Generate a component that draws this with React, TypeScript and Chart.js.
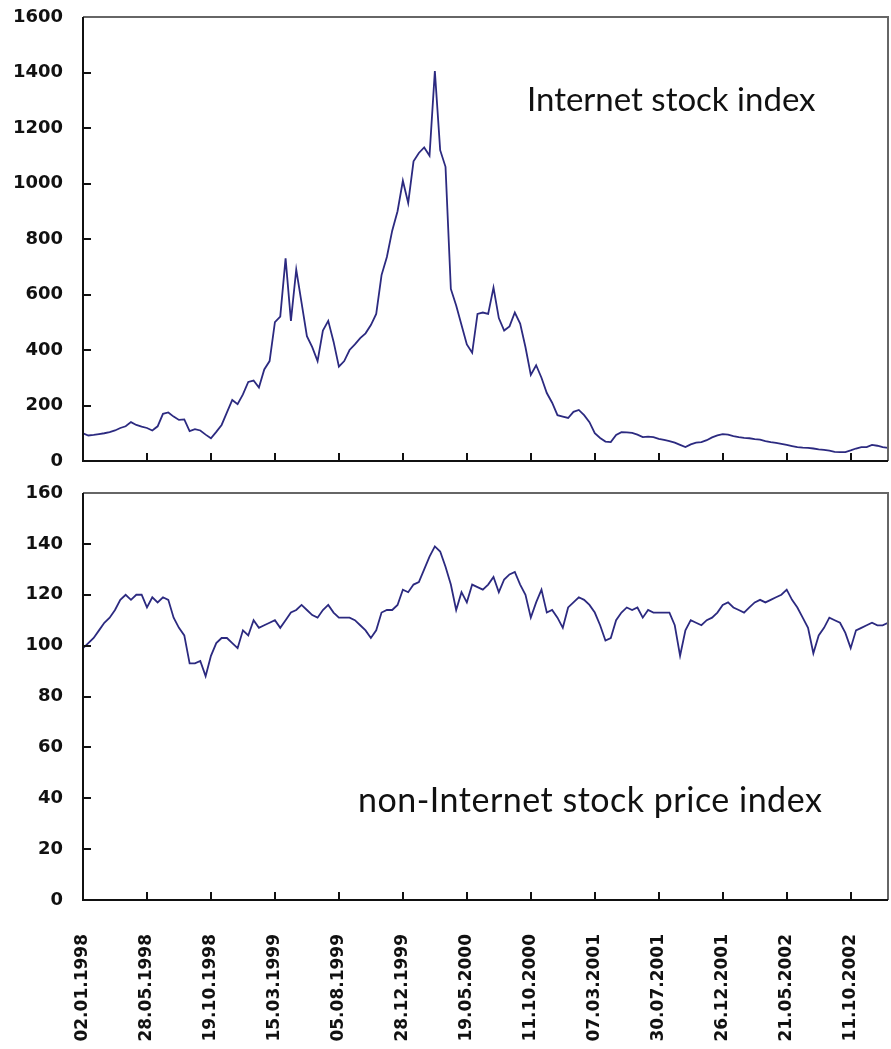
import React, { useEffect, useRef } from "react";
import { Chart, registerables } from "chart.js";

Chart.register(...registerables);

const dateLabels = [
  "02.01.1998", "28.05.1998", "19.10.1998", "15.03.1999", "05.08.1999",
  "28.12.1999", "19.05.2000", "11.10.2000", "07.03.2001", "30.07.2001",
  "26.12.2001", "21.05.2002", "11.10.2002",
];

// sampled roughly every 8 trading days; 12 samples between two date ticks
const internetIndex = [
  100, 92, 94, 97, 100, 104, 110, 119, 125, 140, 130, 124,
  119, 110, 125, 170, 175, 160, 148, 150, 108, 115, 110, 95,
  82, 105, 130, 175, 220, 205, 240, 285, 290, 265, 330, 360,
  500, 520, 730, 505, 690, 570, 450, 410, 360, 470, 505, 430,
  340, 360, 400, 420, 443, 460, 490, 530, 670, 735, 830, 900,
  1010, 930, 1080, 1110, 1130, 1100, 1405, 1120, 1060, 620, 560, 490,
  420, 390, 530, 535, 530, 625, 515, 470, 485, 535, 495, 410,
  310, 345, 300, 245, 210, 165, 160, 155, 177, 184, 165, 140,
  100, 83, 70, 68, 94, 104, 103, 101, 95, 86, 88, 86,
  80, 76, 72, 66, 58, 50, 60, 66, 68, 75, 85, 92,
  97, 95, 90, 86, 83, 82, 79, 77, 72, 68, 65, 62,
  58, 54, 50, 48, 47, 45, 42, 40, 37, 33, 32, 32,
  38, 45, 50, 50, 58, 55, 50, 47,
];

const nonInternetIndex = [
  99, 101, 103, 106, 109, 111, 114, 118, 120, 118, 120, 120,
  115, 119, 117, 119, 118, 111, 107, 104, 93, 93, 94, 88,
  96, 101, 103, 103, 101, 99, 106, 104, 110, 107, 108, 109,
  110, 107, 110, 113, 114, 116, 114, 112, 111, 114, 116, 113,
  111, 111, 111, 110, 108, 106, 103, 106, 113, 114, 114, 116,
  122, 121, 124, 125, 130, 135, 139, 137, 131, 124, 114, 121,
  117, 124, 123, 122, 124, 127, 121, 126, 128, 129, 124, 120,
  111, 117, 122, 113, 114, 111, 107, 115, 117, 119, 118, 116,
  113, 108, 102, 103, 110, 113, 115, 114, 115, 111, 114, 113,
  113, 113, 113, 108, 96, 106, 110, 109, 108, 110, 111, 113,
  116, 117, 115, 114, 113, 115, 117, 118, 117, 118, 119, 120,
  122, 118, 115, 111, 107, 97, 104, 107, 111, 110, 109, 105,
  99, 106, 107, 108, 109, 108, 108, 109,
];

const TICK_EVERY = 12;
const LINE_COLOR = "#2c2a80";
const LABEL_FONT = "'DejaVu Sans', sans-serif";

const framePlugin = {
  id: "frame",
  afterDraw(chart: any) {
    const { ctx, chartArea } = chart;
    const { left, right, top, bottom } = chartArea;
    const xs = chart.scales.x;
    const ys = chart.scales.y;
    ctx.save();
    ctx.strokeStyle = "#111";
    ctx.lineWidth = 2;
    ys.ticks.forEach((t: any) => {
      if (t.value <= ys.min || t.value >= ys.max) return;
      const py = Math.round(ys.getPixelForValue(t.value));
      ctx.beginPath();
      ctx.moveTo(left, py);
      ctx.lineTo(left + 8, py);
      ctx.stroke();
    });
    xs.ticks.forEach((t: any) => {
      if (t.value <= xs.min || t.value % TICK_EVERY !== 0) return;
      const px = Math.round(xs.getPixelForValue(t.value));
      ctx.beginPath();
      ctx.moveTo(px, bottom);
      ctx.lineTo(px, bottom - 8);
      ctx.stroke();
    });
    ctx.strokeStyle = "#666";
    ctx.beginPath();
    ctx.moveTo(left, top);
    ctx.lineTo(right, top);
    ctx.lineTo(right, bottom);
    ctx.stroke();
    ctx.strokeStyle = "#111";
    ctx.beginPath();
    ctx.moveTo(left, top);
    ctx.lineTo(left, bottom);
    ctx.lineTo(right, bottom);
    ctx.stroke();
    ctx.restore();
  },
};

function makeConfig(values: number[], yMax: number, yStep: number, showDates: boolean, padTop: number, xHeight: number) {
  return {
    type: "line" as const,
    data: {
      datasets: [
        {
          data: values.map((v, i) => ({ x: i, y: v })),
          borderColor: LINE_COLOR,
          borderWidth: 1.8,
          pointRadius: 0,
          tension: 0,
          fill: false,
        },
      ],
    },
    options: {
      responsive: false,
      animation: false,
      devicePixelRatio: 1,
      layout: { padding: { top: padTop, right: 3, left: 0, bottom: 0 } },
      plugins: { legend: { display: false }, tooltip: { enabled: false } },
      scales: {
        x: {
          type: "linear",
          min: 0,
          max: values.length - 1,
          grid: { display: false, drawTicks: false },
          border: { display: false },
          afterFit: (s: any) => {
            s.height = xHeight;
            s.paddingLeft = 0;
            s.paddingRight = 0;
            s.paddingTop = 0;
            s.paddingBottom = 0;
          },
          ticks: {
            display: showDates,
            stepSize: TICK_EVERY,
            includeBounds: false,
            autoSkip: false,
            minRotation: 90,
            maxRotation: 90,
            padding: 34,
            color: "#111",
            font: { family: LABEL_FONT, size: 17, weight: "bold" },
            callback: (v: number) => (v % TICK_EVERY === 0 ? dateLabels[v / TICK_EVERY] ?? "" : ""),
          },
        },
        y: {
          min: 0,
          max: yMax,
          grid: { display: false, drawTicks: false },
          border: { display: false },
          afterFit: (s: any) => {
            s.width = 83;
            s.paddingTop = 0;
            s.paddingBottom = 0;
            s.paddingLeft = 0;
            s.paddingRight = 0;
          },
          ticks: {
            stepSize: yStep,
            padding: 20,
            color: "#111",
            font: { family: LABEL_FONT, size: 18, weight: "bold" },
            callback: (v: number) => String(v),
          },
        },
      },
    },
    plugins: [framePlugin],
  };
}

function LineChart({ values, yMax, yStep, showDates, height, padTop, xHeight }: any) {
  const ref = useRef<HTMLCanvasElement | null>(null);
  useEffect(() => {
    if (!ref.current) return;
    const chart = new Chart(ref.current, makeConfig(values, yMax, yStep, showDates, padTop, xHeight) as any);
    return () => chart.destroy();
  }, []);
  return <canvas ref={ref} width={891} height={height} style={{ display: "block" }} />;
}

const noteStyle: React.CSSProperties = {
  position: "absolute",
  fontFamily: "Lato, 'Open Sans', sans-serif",
  color: "#111",
  whiteSpace: "nowrap",
  lineHeight: 1,
};

export default function App() {
  useEffect(() => {
    document.body.style.margin = "0";
  }, []);
  return (
    <div style={{ position: "absolute", left: 0, top: 0, width: 891, height: 1049, background: "#fff" }}>
      <LineChart values={internetIndex} yMax={1600} yStep={200} showDates={false} height={480} padTop={17} xHeight={19} />
      <LineChart values={nonInternetIndex} yMax={160} yStep={20} showDates={true} height={569} padTop={13} xHeight={149} />
      <div style={{ ...noteStyle, fontSize: 33, left: 527, top: 82 }}>Internet stock index</div>
      <div style={{ ...noteStyle, fontSize: 34, letterSpacing: 0.5, left: 358, top: 782 }}>non-Internet stock price index</div>
    </div>
  );
}
